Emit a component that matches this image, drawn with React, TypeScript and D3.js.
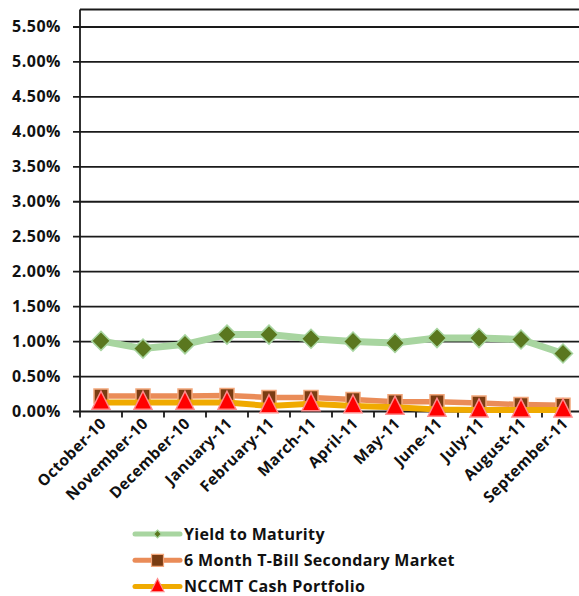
import * as d3 from "d3";

const months = [
  "October-10",
  "November-10",
  "December-10",
  "January-11",
  "February-11",
  "March-11",
  "April-11",
  "May-11",
  "June-11",
  "July-11",
  "August-11",
  "September-11",
];

const yieldToMaturity = [1.01, 0.9, 0.96, 1.1, 1.1, 1.04, 1.0, 0.98, 1.05, 1.05, 1.03, 0.83];
const tBill6Month = [0.22, 0.22, 0.22, 0.23, 0.2, 0.2, 0.17, 0.14, 0.14, 0.12, 0.1, 0.09];
const nccmtCash = [0.13, 0.13, 0.13, 0.13, 0.08, 0.11, 0.08, 0.06, 0.03, 0.02, 0.02, 0.02];

const yTicks = [0, 0.5, 1, 1.5, 2, 2.5, 3, 3.5, 4, 4.5, 5, 5.5];
const yMax = 5.75;

const W = 579;
const H = 596;
const left = 80;
const right = 584;
const top = 9.5;
const bottom = 411.5;

const font = "'Open Sans', 'Noto Sans', sans-serif";

const x = d3.scaleBand<string>().domain(months).range([left, right]);
const y = d3.scaleLinear().domain([0, yMax]).range([bottom, top]);
const cx = (m: string) => (x(m) ?? 0) + x.bandwidth() / 2;

const line = d3
  .line<number>()
  .x((_, i) => cx(months[i]))
  .y((v) => y(v));

// marker shapes (Excel-like proportions)
const diamondPath = (r: number) => `M0,${-r}L${r},0L0,${r}L${-r},0Z`;
const squarePath = (s: number) => `M${-s},${-s}H${s}V${s}H${-s}Z`;
const trianglePath = (w: number) => `M0,${-w * 0.62}L${w / 2},${w * 0.38}L${-w / 2},${w * 0.38}Z`;

const series = [
  {
    name: "Yield to Maturity",
    values: yieldToMaturity,
    lineColor: "#a8d5a0",
    lineWidth: 7,
    marker: diamondPath(9.5),
    legendMarker: diamondPath(4),
    fill: "#5a771f",
    stroke: "#a8d5a0",
  },
  {
    name: "6 Month T-Bill Secondary Market",
    values: tBill6Month,
    lineColor: "#ea8c58",
    lineWidth: 5.5,
    marker: squarePath(7),
    legendMarker: squarePath(6),
    fill: "#7a3c12",
    stroke: "#f2a67a",
  },
  {
    name: "NCCMT Cash Portfolio",
    values: nccmtCash,
    lineColor: "#f0aa00",
    lineWidth: 6,
    marker: trianglePath(18),
    legendMarker: trianglePath(13),
    fill: "#ff0000",
    stroke: "#ff8a8a",
  },
];

export default function App() {
  return (
    <div style={{ position: "fixed", left: 0, top: 0 }}>
      <svg width={W} height={H} style={{ display: "block", background: "#fff" }}>
        {/* grid */}
        {yTicks.map((t) => (
          <g key={t}>
            <line x1={left - 7} x2={right} y1={y(t)} y2={y(t)} stroke="#1a1a1a" strokeWidth={1.8} />
            <text
              x={61}
              y={y(t) + 5.5}
              textAnchor="end"
              fontFamily={font}
              fontWeight="bold"
              fontSize={16}
              letterSpacing={0.5}
              fill="#111"
            >
              {t.toFixed(2)}%
            </text>
          </g>
        ))}
        <line x1={left} x2={right} y1={top} y2={top} stroke="#1a1a1a" strokeWidth={1.8} />
        <line x1={left} x2={left} y1={top} y2={bottom} stroke="#1a1a1a" strokeWidth={1.8} />
        {/* x ticks */}
        {months.concat([""]).map((m, i) => {
          const xx = left + i * x.bandwidth();
          return <line key={i} x1={xx} x2={xx} y1={bottom} y2={bottom + 6} stroke="#1a1a1a" strokeWidth={1.8} />;
        })}
        {months.map((m) => (
          <text
            key={m}
            transform={`translate(${cx(m) + 6},${bottom + 13}) rotate(-45)`}
            textAnchor="end"
            fontFamily={font}
            fontWeight="bold"
            fontSize={15.5}
            letterSpacing={0.4}
            fill="#111"
          >
            {m}
          </text>
        ))}
        {/* series */}
        {series.map((s) => (
          <g key={s.name}>
            <path
              d={line(s.values) ?? ""}
              fill="none"
              stroke={s.lineColor}
              strokeWidth={s.lineWidth}
              strokeLinejoin="round"
              strokeLinecap="round"
            />
            {s.values.map((v, i) => (
              <path
                key={i}
                d={s.marker}
                transform={`translate(${cx(months[i])},${y(v)})`}
                fill={s.fill}
                stroke={s.stroke}
                strokeWidth={1.5}
              />
            ))}
          </g>
        ))}
        {/* legend */}
        {series.map((s, i) => {
          const ly = 534 + i * 26.3;
          return (
            <g key={s.name}>
              <line x1={135} x2={180} y1={ly} y2={ly} stroke={s.lineColor} strokeWidth={5} strokeLinecap="round" />
              <path
                d={s.legendMarker}
                transform={`translate(157.5,${ly})`}
                fill={s.fill}
                stroke={s.stroke}
                strokeWidth={1.2}
              />
              <text
                x={184}
                y={ly + 5.5}
                fontFamily={font}
                fontWeight="bold"
                fontSize={16}
                letterSpacing={0.35}
                fill="#111"
              >
                {s.name}
              </text>
            </g>
          );
        })}
      </svg>
    </div>
  );
}
